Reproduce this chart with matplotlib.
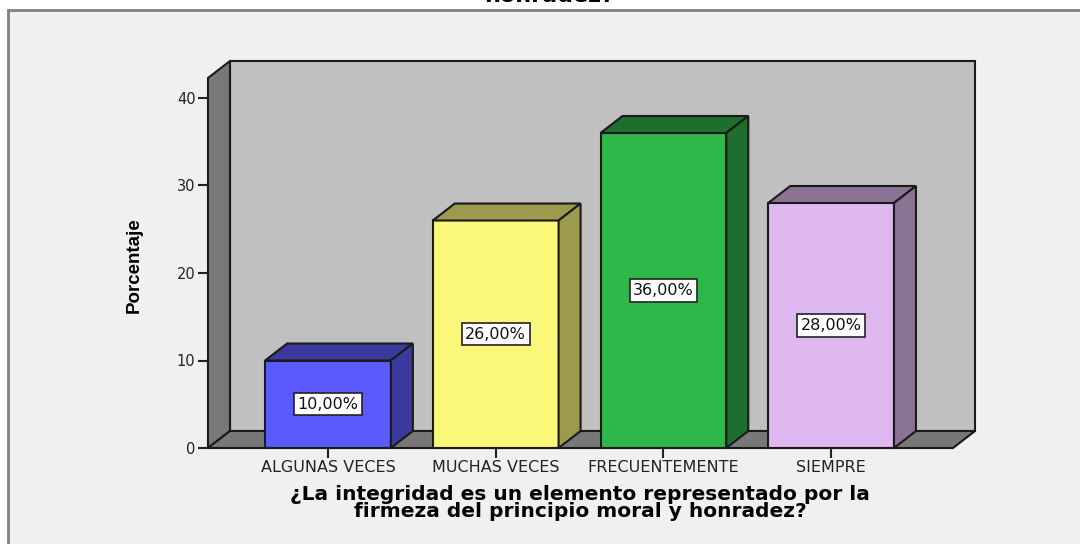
import matplotlib
matplotlib.use("Agg")
import matplotlib.pyplot as plt
from matplotlib.patches import Polygon, Rectangle

categories = ["ALGUNAS VECES", "MUCHAS VECES", "FRECUENTEMENTE", "SIEMPRE"]
values = [10.0, 26.0, 36.0, 28.0]
value_labels = ["10,00%", "26,00%", "36,00%", "28,00%"]
yticks = [0, 10, 20, 30, 40]
front_colors = ["#5a5aff", "#faf878", "#2eb84a", "#dfb8f2"]
dark_colors = ["#3a3a9e", "#9c9a4c", "#1e6e2e", "#8a7294"]
x_title = "¿La integridad es un elemento representado por la\nfirmeza del principio moral y honradez?"
y_title = "Porcentaje"

W, H = 1080, 544
fig = plt.figure(figsize=(W / 100, H / 100), dpi=100)
fig.patch.set_facecolor("white")

# outer panel
fig.patches.append(Rectangle((8 / W, -0.05), 1.2, 1 - 10 / H + 0.05,
                             transform=fig.transFigure, facecolor="#f0f0f0",
                             edgecolor="#808080", lw=2, zorder=-5))
fig.text(549 / W, 1 - 2 / H, "honradez?", ha="center", va="baseline",
         fontsize=16, fontweight="bold", family="DejaVu Sans", color="black")

# axes geometry (pixel mapping)
px_left, px_right, px_bottom, px_top = 208, 953, 448, 78
c0, step = 328, 167.7
xmin = (px_left - c0) / step
xmax = (px_right - c0) / step
ymax = (px_bottom - px_top) / 8.75
ax = fig.add_axes([px_left / W, (H - px_bottom) / H,
                   (px_right - px_left) / W, (px_bottom - px_top) / H])
ax.set_zorder(1)
ax.set_xlim(xmin, xmax)
ax.set_ylim(0, ymax)
ax.patch.set_visible(False)
for s in ax.spines.values():
    s.set_visible(False)

DX = 22 / step
DY = 17 / 8.75
lw = 1.5
ec = "#1a1a1a"

def poly(pts, fc, z):
    ax.add_patch(Polygon(pts, closed=True, facecolor=fc, edgecolor=ec, lw=lw,
                         joinstyle="miter", clip_on=False, zorder=z))

# back wall
poly([(xmin + DX, DY), (xmax + DX, DY), (xmax + DX, ymax + DY), (xmin + DX, ymax + DY)], "#c0c0c0", 1)
# left wall
poly([(xmin, 0), (xmin, ymax), (xmin + DX, ymax + DY), (xmin + DX, DY)], "#787878", 1.1)
# floor
poly([(xmin, 0), (xmax, 0), (xmax + DX, DY), (xmin + DX, DY)], "#787878", 1.2)

hw = 0.375
xs = list(range(len(categories)))
for i, (x, v) in enumerate(zip(xs, values)):
    z = 2 + i * 0.1
    l, r = x - hw, x + hw
    poly([(l, 0), (r, 0), (r, v), (l, v)], front_colors[i], z)
    poly([(l, v), (r, v), (r + DX, v + DY), (l + DX, v + DY)], dark_colors[i], z + 0.01)
    poly([(r, 0), (r + DX, DY), (r + DX, v + DY), (r, v)], dark_colors[i], z + 0.01)
    ax.text(x, v / 2, value_labels[i], ha="center", va="center", fontsize=11.5,
            family="DejaVu Sans", color="#111111", zorder=z + 0.05,
            bbox=dict(boxstyle="square,pad=0.22", facecolor="white", edgecolor="#222222", lw=1.2))

ax.set_yticks(yticks)
ax.set_yticklabels([str(t) for t in yticks], fontsize=10.5, family="DejaVu Sans", color="#222222")
ax.set_xticks(xs)
ax.set_xticklabels(categories, fontsize=11.5, family="DejaVu Sans", color="#222222")
ax.tick_params(axis="y", length=7, width=1.5, color="#222222", pad=2)
ax.tick_params(axis="x", length=7, width=1.5, color="#222222", pad=2)

ax.set_xlabel(x_title, fontsize=14.5, fontweight="bold", family="DejaVu Sans",
              linespacing=0.92)
ax.xaxis.set_label_coords((580 - px_left) / (px_right - px_left), -(503 - px_bottom) / (px_bottom - px_top))
ax.xaxis.label.set_va("center")
ax.set_ylabel(y_title, fontsize=13.5, fontweight="bold", family="Liberation Sans")
ax.yaxis.set_label_coords(-(px_left - 143) / (px_right - px_left), (px_bottom - 265) / (px_bottom - px_top))

fig.savefig("out.png", dpi=100)
